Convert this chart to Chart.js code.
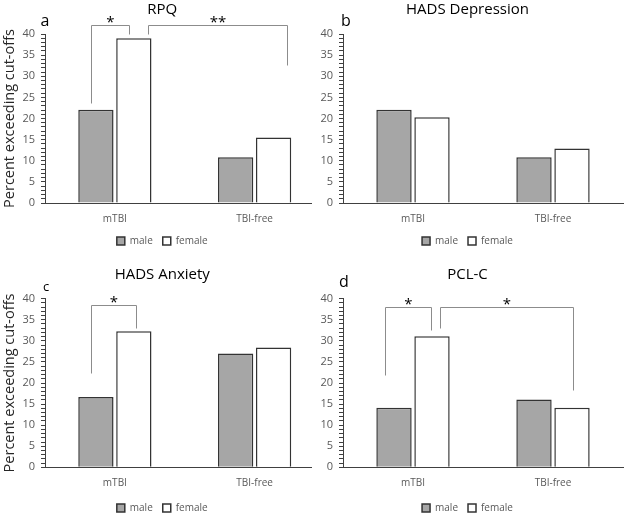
<!DOCTYPE html>
<html>
<head>
<meta charset="utf-8">
<script src="https://cdn.jsdelivr.net/npm/chart.js@4.4.1/dist/chart.umd.min.js"></script>
<style>
  html, body { margin: 0; padding: 0; background: #fff; }
  #wrap { position: relative; width: 625px; height: 514px; overflow: hidden; background: #fff; }
  canvas { position: absolute; background: #fff; }
</style>
</head>
<body>
<div id="wrap">
  <canvas id="pa" width="354" height="256" style="left:0;top:0;z-index:1"></canvas>
  <canvas id="pb" width="324" height="256" style="left:312px;top:0;z-index:2"></canvas>
  <canvas id="pc" width="354" height="261" style="left:0;top:262px;z-index:1"></canvas>
  <canvas id="pd" width="324" height="261" style="left:312px;top:262px;z-index:2"></canvas>
</div>
<script>
const categories = ["mTBI", "TBI-free"];
const seriesLabels = ["male", "female"];

const rpqMale = [22.1, 10.8];
const rpqFemale = [39.0, 15.5];
const depMale = [22.1, 10.8];
const depFemale = [20.3, 12.9];
const anxMale = [16.7, 27.0];
const anxFemale = [32.3, 28.4];
const pclMale = [14.1, 16.1];
const pclFemale = [31.1, 14.1];

const yMax = 40;
const yLabelStep = 5;

// significance brackets, in category index / percent units
const rpqMarks = [
  { from: -0.17, to: 0.1, top: 42.1, leftEnd: 23.6, rightEnd: 40, text: "*" },
  { from: 0.24, to: 1.23, top: 42.1, leftEnd: 40, rightEnd: 32.6, text: "**" },
];
const depMarks = [];
const anxMarks = [
  { from: -0.17, to: 0.15, top: 38.5, leftEnd: 22.4, rightEnd: 33.1, text: "*" },
];
const pclMarks = [
  { from: -0.2, to: 0.13, top: 38.0, leftEnd: 21.9, rightEnd: 32.5, text: "*" },
  { from: 0.19, to: 1.14, top: 38.0, leftEnd: 33.1, rightEnd: 18.3, text: "*" },
];

const FONT = "'Open Sans', 'Noto Sans', sans-serif";
const AXIS = "#404040";
const GREY_TEXT = "#595959";

function bracketPlugin(marks, letter) {
  return {
    id: "brackets",
    afterDatasetsDraw(chart) {
      const { ctx, scales, chartArea } = chart;
      const x0 = scales.x.getPixelForValue(0);
      const x1 = scales.x.getPixelForValue(1);
      const px = (v) => Math.round(x0 + (x1 - x0) * v) + 0.5;
      const py = (v) => Math.round(scales.y.getPixelForValue(v)) + 0.5;
      ctx.save();
      ctx.strokeStyle = "#8c8c8c";
      ctx.lineWidth = 1;
      marks.forEach((m) => {
        const l = px(m.from);
        const r = px(m.to);
        const t = py(m.top);
        ctx.beginPath();
        ctx.moveTo(l, py(m.leftEnd));
        ctx.lineTo(l, t);
        ctx.lineTo(r, t);
        ctx.lineTo(r, py(m.rightEnd));
        ctx.stroke();
        ctx.fillStyle = "#000";
        ctx.font = "15px " + FONT;
        ctx.textAlign = "center";
        ctx.textBaseline = "alphabetic";
        ctx.fillText(m.text, (l + r) / 2, t + 1);
      });
      // panel letter
      ctx.fillStyle = "#000";
      ctx.font = letter.size + "px " + FONT;
      ctx.textAlign = "center";
      ctx.textBaseline = "alphabetic";
      ctx.fillText(letter.text, chartArea.left + letter.dx, chartArea.top - letter.dy);
      ctx.restore();
    },
  };
}

function makePanel(id, title, male, female, marks, p) {
  const ctx = document.getElementById(id).getContext("2d");
  return new Chart(ctx, {
    type: "bar",
    data: {
      labels: categories,
      datasets: [
        {
          label: seriesLabels[0],
          data: male,
          backgroundColor: "#a6a6a6",
          borderColor: "#333333",
          borderWidth: 1.5,
          categoryPercentage: 0.543,
          barPercentage: 0.93,
        },
        {
          label: seriesLabels[1],
          data: female,
          backgroundColor: "#ffffff",
          borderColor: "#333333",
          borderWidth: 1.5,
          categoryPercentage: 0.543,
          barPercentage: 0.93,
        },
      ],
    },
    options: {
      responsive: false,
      animation: false,
      devicePixelRatio: 1,
      layout: { padding: { left: 0, right: p.padRight, top: p.padTop, bottom: 0 } },
      plugins: {
        title: {
          display: true,
          text: title,
          color: "#000",
          font: { family: FONT, size: 15, weight: "normal" },
          padding: { top: 1, bottom: 15 },
        },
        legend: {
          position: "bottom",
          labels: {
            boxWidth: 8,
            boxHeight: 8,
            padding: 10,
            color: GREY_TEXT,
            font: { family: FONT, size: 10 },
          },
        },
        tooltip: { enabled: false },
      },
      scales: {
        x: {
          afterFit: (scale) => {
            scale.height = p.xHeight;
          },
          grid: { display: false, drawTicks: false },
          border: { display: true, color: AXIS, width: 1 },
          ticks: { color: GREY_TEXT, padding: 10, font: { family: FONT, size: 10 } },
        },
        y: {
          min: 0,
          max: yMax,
          afterFit: (scale) => {
            scale.width = p.axisWidth;
          },
          grid: { drawOnChartArea: false, drawTicks: true, tickLength: 4, color: AXIS },
          border: { display: true, color: AXIS, width: 1 },
          ticks: {
            stepSize: 1,
            autoSkip: false,
            padding: 6,
            color: GREY_TEXT,
            font: { family: FONT, size: 11 },
            callback: (v) => (v % yLabelStep === 0 ? v : ""),
          },
          title: {
            display: p.yTitle,
            text: "Percent exceeding cut-offs",
            color: "#262626",
            font: { family: FONT, size: 14.5 },
            padding: { top: 1, bottom: 0 },
          },
        },
      },
    },
    plugins: [bracketPlugin(marks, p.letter)],
  });
}

makePanel("pa", "RPQ", rpqMale, rpqFemale, rpqMarks, {
  padRight: 29.5, padTop: 0, xHeight: 23, axisWidth: 45, yTitle: true,
  letter: { text: "a", dx: 0, dy: 8.5, size: 16 },
});
makePanel("pb", "HADS Depression", depMale, depFemale, depMarks, {
  padRight: 13, padTop: 0, xHeight: 23, axisWidth: 31, yTitle: false,
  letter: { text: "b", dx: 3, dy: 8.5, size: 16 },
});
makePanel("pc", "HADS Anxiety", anxMale, anxFemale, anxMarks, {
  padRight: 29.5, padTop: 2.7, xHeight: 25.7, axisWidth: 45, yTitle: true,
  letter: { text: "c", dx: 1, dy: 7.7, size: 13 },
});
makePanel("pd", "PCL-C", pclMale, pclFemale, pclMarks, {
  padRight: 13, padTop: 2.7, xHeight: 25.7, axisWidth: 31, yTitle: false,
  letter: { text: "d", dx: 1, dy: 12, size: 16 },
});
</script>
</body>
</html>
